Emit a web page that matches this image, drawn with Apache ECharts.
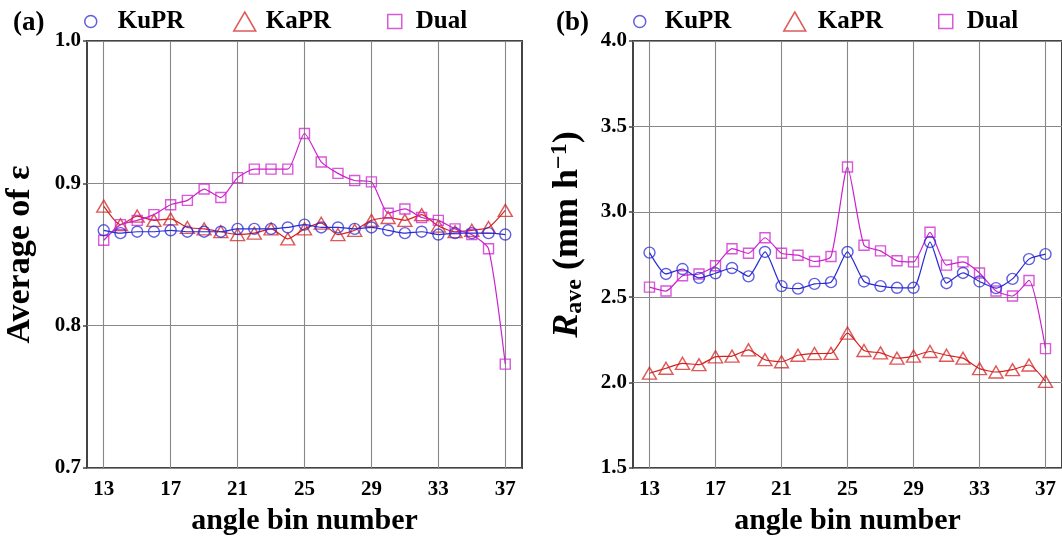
<!DOCTYPE html>
<html><head><meta charset="utf-8">
<script src="https://cdn.jsdelivr.net/npm/echarts@6/dist/echarts.min.js"></script>
<style>html,body{margin:0;padding:0;background:#fff}#c{width:1062px;height:541px}</style>
</head><body><div id="c"></div>
<script>
// ---------- data ----------
const bins = [13,14,15,16,17,18,19,20,21,22,23,24,25,26,27,28,29,30,31,32,33,34,35,36,37];
const xTicks = [13,17,21,25,29,33,37];
// (a) average of epsilon
const kuprEps = [0.867,0.865,0.866,0.866,0.867,0.866,0.866,0.866,0.868,0.868,0.868,0.869,0.871,0.869,0.869,0.868,0.869,0.867,0.865,0.866,0.864,0.865,0.865,0.865,0.864];
const kaprEps = [0.884,0.871,0.877,0.874,0.875,0.869,0.868,0.866,0.864,0.865,0.868,0.861,0.868,0.872,0.864,0.867,0.874,0.876,0.874,0.878,0.870,0.866,0.867,0.869,0.881];
const dualEps = [0.860,0.871,0.874,0.878,0.885,0.888,0.896,0.890,0.904,0.910,0.910,0.910,0.935,0.915,0.907,0.902,0.901,0.879,0.882,0.876,0.874,0.868,0.864,0.854,0.773];
// (b) R_ave (mm/h)
const kuprR = [2.761,2.636,2.665,2.613,2.640,2.671,2.622,2.765,2.565,2.550,2.578,2.588,2.765,2.592,2.565,2.555,2.555,2.823,2.582,2.642,2.592,2.553,2.607,2.723,2.752];
const kaprR = [2.055,2.084,2.113,2.105,2.151,2.155,2.192,2.134,2.122,2.160,2.170,2.171,2.290,2.188,2.174,2.143,2.155,2.182,2.160,2.143,2.082,2.062,2.076,2.103,2.007];
const dualR = [2.559,2.536,2.626,2.636,2.684,2.784,2.757,2.848,2.757,2.746,2.709,2.738,3.262,2.804,2.771,2.713,2.707,2.880,2.688,2.707,2.642,2.536,2.507,2.598,2.199];
const seriesNames = ['KuPR','KaPR','Dual'];

// ---------- style ----------
const F = '"Liberation Serif","Times New Roman",serif';
const COL = {KuPR:'#2a2ad6', KaPR:'#d42222', Dual:'#cc22cc'};
const SYM = {KuPR:'circle', KaPR:'triangle', Dual:'rect'};
const SIZE = {KuPR:11, KaPR:[14,12], Dual:10};

const chart = echarts.init(document.getElementById('c'));

function xAxis(gi){
  return {
    type:'value', gridIndex:gi, min:12, max:38,
    axisLine:{show:false},
    axisTick:{show:false, customValues:xTicks},
    axisLabel:{customValues:xTicks, fontFamily:F, fontWeight:'bold', fontSize:21, color:'#000', margin:11},
    splitLine:{show:true, lineStyle:{color:'#888', width:1.1}},
    name:'angle bin number', nameLocation:'middle', nameGap:38,
    nameTextStyle:{fontFamily:F, fontWeight:'bold', fontSize:30, color:'#000'}
  };
}
function yAxis(gi, min, max, interval, name, rich, gap){
  return {
    type:'value', gridIndex:gi, min:min, max:max, interval:interval,
    axisLine:{show:false},
    axisTick:{show:true, length:4, lineStyle:{color:'#444', width:1.5}},
    axisLabel:{fontFamily:F, fontWeight:'bold', fontSize:21, color:'#000', margin:6,
      formatter:v=>v.toFixed(1)},
    splitLine:{show:true, lineStyle:{color:'#888', width:1.1}},
    name:name, nameLocation:'middle', nameRotate:90, nameGap:gap,
    nameTextStyle:Object.assign({fontFamily:F, fontWeight:'bold', fontSize:34, color:'#000'}, rich?{rich:rich}:{})
  };
}

function mkSeries(name, xi, vals){
  return {
    type:'line', name:name, xAxisIndex:xi, yAxisIndex:xi,
    data:bins.map((b,i)=>[b, vals[i]]),
    symbol:SYM[name], symbolSize:SIZE[name], smooth:0.2,
    lineStyle:{color:COL[name], width:1.2},
    itemStyle:{color:'transparent', borderColor:COL[name], borderWidth:1.4, opacity:0.75},
    emphasis:{disabled:true}, animation:false, z:name==='Dual'?3:(name==='KaPR'?2:4)
  };
}

function legendItem(name, left, w, h, pad){
  return {
    left:left, top:9, padding:0, itemWidth:w, itemHeight:h, selectedMode:false,
    data:[{name:name, icon:SYM[name], itemStyle:{color:'transparent', borderColor:COL[name], borderWidth:1.5}}],
    textStyle:{fontFamily:F, fontWeight:'bold', fontSize:25, color:'#000', padding:[0,0,0,pad]}
  };
}

const richR = {
  r:{fontFamily:F, fontWeight:'bold', fontStyle:'italic', fontSize:36, color:'#000', padding:[0,0,0,40]},
  sub:{fontFamily:F, fontWeight:'bold', fontSize:24, color:'#000', padding:[15,0,0,0]},
  n:{fontFamily:F, fontWeight:'bold', fontSize:36, color:'#000'},
  sup:{fontFamily:F, fontWeight:'bold', fontSize:24, color:'#000', padding:[0,0,15,0]}
};

chart.setOption({
  backgroundColor:'#fff',
  animation:false,
  title:[
    {text:'(a)', left:8, top:5, textStyle:{fontFamily:F, fontWeight:'bold', fontSize:27, color:'#000'}},
    {text:'(b)', left:551, top:5, textStyle:{fontFamily:F, fontWeight:'bold', fontSize:27, color:'#000'}}
  ],
  legend:[
    legendItem('KuPR', 84, 12, 12, 16),
    legendItem('KaPR', 233, 22, 19, 5),
    legendItem('Dual', 387, 14, 14, 9),
    legendItem('KuPR', 633, 12, 12, 14),
    legendItem('KaPR', 783, 22, 19, 7),
    legendItem('Dual', 938, 14, 14, 9)
  ],
  grid:[
    {left:87, top:41, width:435, height:434, show:true, borderColor:'#444', borderWidth:2, backgroundColor:'transparent'},
    {left:633, top:41, width:435, height:434, show:true, borderColor:'#444', borderWidth:2, backgroundColor:'transparent'}
  ],
  xAxis:[xAxis(0), xAxis(1)],
  yAxis:[
    yAxis(0, 0.7, 1.0, 0.1, 'Average of ε', null, 50),
    yAxis(1, 1.5, 4.0, 0.5, '{r|R}{sub|ave}{n| (mm h}{sup|−1}{n|)}', richR, 46)
  ],
  series:[
    mkSeries('KuPR',0,kuprEps), mkSeries('KaPR',0,kaprEps), mkSeries('Dual',0,dualEps),
    mkSeries('KuPR',1,kuprR), mkSeries('KaPR',1,kaprR), mkSeries('Dual',1,dualR)
  ]
});
</script>
</body></html>
